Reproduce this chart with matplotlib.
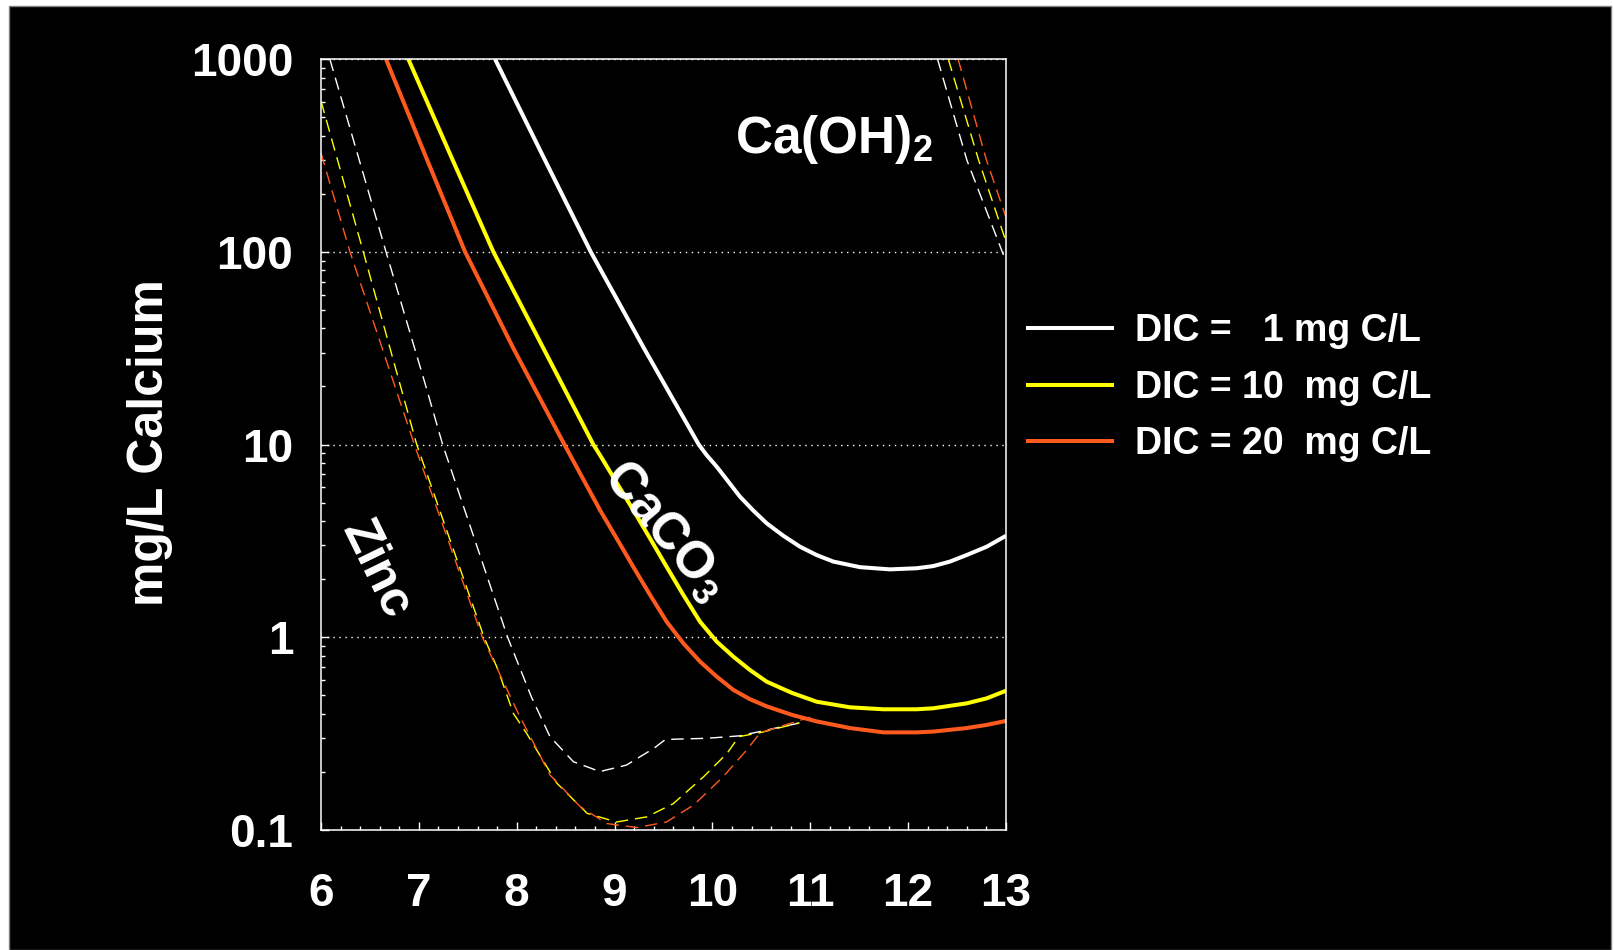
import numpy as np
import matplotlib
matplotlib.use('Agg')
import matplotlib.pyplot as plt
from matplotlib.patches import Rectangle
from matplotlib.ticker import FixedLocator, FixedFormatter, MultipleLocator

# CaCO3 solubility, solid lines (pH, mg/L Ca)
ph_dic1 = [7.778, 8.265, 8.756, 9.30, 9.86, 9.941, 10.044, 10.163, 10.282, 10.418, 10.555, 10.725,
           10.895, 11.065, 11.235, 11.508, 11.815, 12.087, 12.257, 12.428, 12.598, 12.803, 13.0]
ca_dic1 = [1000, 316, 100, 31.6, 10.0, 8.81, 7.67, 6.41, 5.36, 4.54, 3.90, 3.36,
           2.95, 2.67, 2.47, 2.31, 2.25, 2.28, 2.34, 2.47, 2.67, 2.95, 3.36]
ph_dic10 = [6.892, 7.325, 7.761, 8.272, 8.783, 8.851, 9.021, 9.191, 9.362, 9.532, 9.702, 9.873, 10.044,
            10.214, 10.384, 10.555, 10.810, 11.065, 11.406, 11.746, 12.087, 12.257, 12.598, 12.803, 13.0]
ca_dic10 = [1000, 316, 100, 31.6, 10, 8.81, 6.34, 4.57, 3.26, 2.32, 1.66, 1.205, 0.949,
            0.793, 0.676, 0.588, 0.515, 0.463, 0.433, 0.423, 0.423, 0.428, 0.454, 0.482, 0.528]
ph_dic20 = [6.664, 7.066, 7.472, 7.965, 8.487, 8.851, 9.021, 9.191, 9.362, 9.532, 9.702, 9.873, 10.044,
            10.214, 10.384, 10.555, 10.810, 11.065, 11.406, 11.746, 12.087, 12.257, 12.598, 12.803, 13.0]
ca_dic20 = [1000, 316, 100, 31.6, 10, 4.57, 3.26, 2.32, 1.66, 1.205, 0.931, 0.748, 0.625,
            0.533, 0.477, 0.438, 0.396, 0.366, 0.338, 0.321, 0.321, 0.324, 0.338, 0.351, 0.368]

# zinc curves, dashed
zn_ph1 = [6.09, 6.664, 7.053, 7.243, 7.907, 8.15, 8.34, 8.58, 8.85, 9.12, 9.40, 9.52, 9.94, 10.28, 10.90]
zn_ca1 = [1000, 100, 21.6, 10, 1.0, 0.49, 0.305, 0.226, 0.201, 0.217, 0.265, 0.295, 0.299, 0.308, 0.36]
zn_ph10 = [6.0, 6.432, 6.978, 7.666, 7.81, 7.965, 8.10, 8.41, 8.72, 9.02, 9.33, 9.60, 9.91, 10.15, 10.27,
           10.49, 10.89]
zn_ca10 = [605, 100, 10, 1.0, 0.676, 0.403, 0.318, 0.175, 0.122, 0.110, 0.117, 0.137, 0.189, 0.25, 0.305,
           0.32, 0.36]
zn_ph20 = [6.0, 6.296, 6.954, 7.649, 8.016, 8.34, 8.65, 8.92, 9.23, 9.53, 9.81, 10.11, 10.35, 10.49, 11.0]
zn_ca20 = [325, 100, 10, 1.0, 0.403, 0.193, 0.132, 0.108, 0.103, 0.110, 0.135, 0.189, 0.26, 0.32, 0.385]

# Ca(OH)2 limit, dashed at high pH
oh_ph1 = [12.30, 12.60, 13.0]
oh_ca1 = [1000, 299, 89]
oh_ph10 = [12.41, 12.72, 13.0]
oh_ca10 = [1000, 299, 113]
oh_ph20 = [12.51, 12.80, 13.0]
oh_ca20 = [1000, 299, 151]

labels = ['DIC =   1 mg C/L', 'DIC = 10  mg C/L', 'DIC = 20  mg C/L']
colors = ['white', '#FFFF00', '#FF5A1E']
yticks = [0.1, 1, 10, 100, 1000]
yticklabels = ['0.1', '1', '10', '100', '1000']
xticks = [6, 7, 8, 9, 10, 11, 12, 13]

plt.rcParams['font.family'] = ['Liberation Sans', 'DejaVu Sans']
plt.rcParams['font.weight'] = 'bold'
plt.rcParams['mathtext.default'] = 'regular'

W, H = 1614, 950
fig = plt.figure(figsize=(W / 100, H / 100), dpi=100, facecolor='white')
fig.patches.append(Rectangle((9 / W, 0), (1611 - 9) / W, (H - 6) / H, transform=fig.transFigure,
                             facecolor='black', edgecolor='#808080', lw=1, zorder=-5))

ax = fig.add_axes([321 / W, 1 - 830 / H, (1006 - 321) / W, (830 - 59) / H])
ax.set_facecolor('black')
ax.set_yscale('log')
ax.set_xlim(6, 13)
ax.set_ylim(0.1, 1000)

solid = []
for ph, ca, c, lab in zip([ph_dic1, ph_dic10, ph_dic20], [ca_dic1, ca_dic10, ca_dic20], colors, labels):
    l, = ax.plot(ph, ca, color=c, lw=2.9, label=lab, solid_capstyle='butt', solid_joinstyle='round')
    solid.append(l)
for ph, ca, c in zip([zn_ph1, zn_ph10, zn_ph20], [zn_ca1, zn_ca10, zn_ca20], colors):
    ax.plot(ph, ca, color=c, lw=1.0, dashes=(9, 5))
for ph, ca, c in zip([oh_ph1, oh_ph10, oh_ph20], [oh_ca1, oh_ca10, oh_ca20], colors):
    ax.plot(ph, ca, color=c, lw=1.0, dashes=(9, 5))

ax.grid(axis='y', which='major', color='white', lw=1, linestyle=(0, (1, 3.3)))
ax.yaxis.set_major_locator(FixedLocator(yticks))
ax.yaxis.set_major_formatter(FixedFormatter(yticklabels))
ax.yaxis.set_minor_locator(FixedLocator([m * 10.0 ** e for e in range(-1, 3) for m in range(2, 10)]))
ax.xaxis.set_major_locator(FixedLocator(xticks))
ax.xaxis.set_minor_locator(MultipleLocator(0.2))
ax.tick_params(which='both', direction='in', colors='white', width=1, top=False, right=False)
ax.tick_params(which='major', length=6)
ax.tick_params(which='minor', length=3)
ax.tick_params(axis='y', which='major', pad=20, labelsize=33)
ax.tick_params(axis='x', which='major', pad=30, labelsize=33)
for t in ax.get_xticklabels() + ax.get_yticklabels():
    t.set_fontweight('bold')
for s in ax.spines.values():
    s.set_color('white')
    s.set_linewidth(1.1)

fig.text(150 / W, 1 - 443 / H, 'mg/L Calcium', rotation=90, ha='center', va='center',
         color='white', fontsize=36, fontweight='bold')

ax.text(0.749, 0.895, 'Ca(OH)$_2$', transform=ax.transAxes, ha='center', va='center',
        color='white', fontsize=37, fontweight='bold')
ax.text(0.502, 0.389, 'CaCO$_3$', transform=ax.transAxes, ha='center', va='center',
        rotation=-50, color='white', fontsize=37, fontweight='bold')
ax.text(0.080, 0.338, 'Zinc', transform=ax.transAxes, ha='center', va='center',
        rotation=-64, color='white', fontsize=36, fontweight='bold')

leg = ax.legend(handles=solid, loc='upper left', bbox_to_anchor=(1026 / W, 1 - 313 / H),
                bbox_transform=fig.transFigure, frameon=False, fontsize=27,
                handlelength=2.35, handletextpad=0.56, labelspacing=0.55,
                borderpad=0, borderaxespad=0, labelcolor='white')
for t in leg.get_texts():
    t.set_fontweight('bold')

fig.savefig('out.png', dpi=100, facecolor=fig.get_facecolor())
